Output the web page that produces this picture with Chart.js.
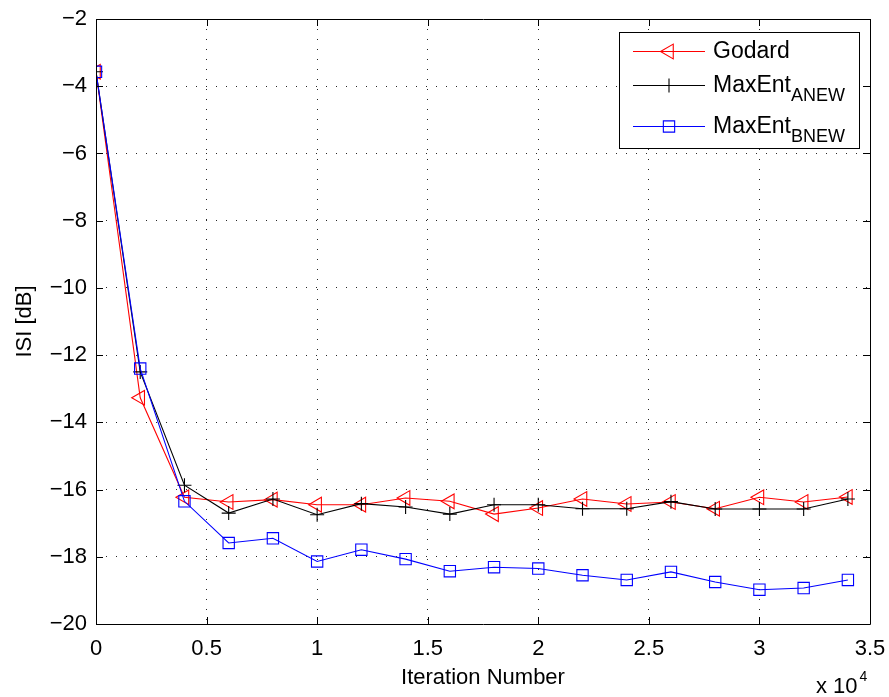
<!DOCTYPE html>
<html>
<head>
<meta charset="utf-8">
<script src="https://cdn.jsdelivr.net/npm/chart.js@4/dist/chart.umd.min.js"></script>
<style>
  html, body { margin: 0; padding: 0; background: #fff; }
  #wrap { width: 889px; height: 697px; position: relative; }
</style>
</head>
<body>
<div id="wrap"><canvas id="c" width="889" height="697"></canvas></div>
<script>
// ---- data ----
const iterations = [0, 2000, 4000, 6000, 8000, 10000, 12000, 14000, 16000, 18000, 20000, 22000, 24000, 26000, 28000, 30000, 32000, 34000];
const godard  = [-3.57, -13.27, -16.23, -16.37, -16.30, -16.45, -16.45, -16.25, -16.35, -16.73, -16.55, -16.28, -16.43, -16.37, -16.57, -16.23, -16.37, -16.22];
const maxEntA = [-3.57, -12.50, -15.87, -16.70, -16.28, -16.75, -16.42, -16.52, -16.73, -16.45, -16.45, -16.57, -16.57, -16.36, -16.58, -16.58, -16.58, -16.28];
const maxEntB = [-3.57, -12.40, -16.35, -17.59, -17.45, -18.14, -17.79, -18.07, -18.43, -18.31, -18.35, -18.55, -18.69, -18.45, -18.75, -18.98, -18.93, -18.69];
const seriesNames = ['Godard', 'MaxEnt', 'MaxEnt'];
const seriesSubs  = ['', 'ANEW', 'BNEW'];
const xTickValues = [0, 5000, 10000, 15000, 20000, 25000, 30000, 35000];
const yTickValues = [-20, -18, -16, -14, -12, -10, -8, -6, -4, -2];
const xTitle = 'Iteration Number';
const yTitle = 'ISI [dB]';

const FONT = '"Liberation Sans", Arial, Helvetica, sans-serif';
const toPts = ys => iterations.map((x, i) => ({ x: x, y: ys[i] }));

const datasets = [
  { label: 'Godard', data: toPts(godard), borderColor: '#ff0000', backgroundColor: 'rgba(0,0,0,0)',
    pointStyle: 'triangle', pointRotation: -90, pointRadius: 8.5, order: 3 },
  { label: 'MaxEnt ANEW', data: toPts(maxEntA), borderColor: '#000000', backgroundColor: 'rgba(0,0,0,0)',
    pointStyle: 'cross', pointRotation: 0, pointRadius: 7, order: 2 },
  { label: 'MaxEnt BNEW', data: toPts(maxEntB), borderColor: '#0000ff', backgroundColor: 'rgba(0,0,0,0)',
    pointStyle: 'rect', pointRotation: 0, pointRadius: 8, order: 1 }
];
datasets.forEach(d => {
  d.borderWidth = 1.1;
  d.pointBorderWidth = 1.1;
  d.tension = 0;
  d.fill = false;
  d.pointBackgroundColor = 'rgba(0,0,0,0)';
  d.pointBorderColor = d.borderColor;
  d.pointHoverRadius = d.pointRadius;
});

const framePlugin = {
  id: 'matlabFrame',
  afterDraw(chart) {
    const ctx = chart.ctx;
    const a = chart.chartArea;
    const xs = chart.scales.x, ys = chart.scales.y;
    ctx.save();
    // frame
    ctx.strokeStyle = '#000';
    ctx.lineWidth = 1;
    ctx.beginPath();
    ctx.rect(Math.round(a.left) + 0.5, Math.round(a.top) + 0.5, Math.round(a.right - a.left), Math.round(a.bottom - a.top));
    ctx.stroke();
    // inward ticks
    const tl = 7;
    ctx.beginPath();
    xTickValues.forEach(v => {
      const px = Math.round(xs.getPixelForValue(v)) + 0.5;
      ctx.moveTo(px, a.bottom); ctx.lineTo(px, a.bottom - tl);
      ctx.moveTo(px, a.top); ctx.lineTo(px, a.top + tl);
    });
    yTickValues.forEach(v => {
      const py = Math.round(ys.getPixelForValue(v)) + 0.5;
      ctx.moveTo(a.left, py); ctx.lineTo(a.left + tl, py);
      ctx.moveTo(a.right, py); ctx.lineTo(a.right - tl, py);
    });
    ctx.stroke();

    // axis titles
    ctx.fillStyle = '#000';
    ctx.font = '22px ' + FONT;
    ctx.textAlign = 'center';
    ctx.textBaseline = 'alphabetic';
    ctx.fillText(xTitle, (a.left + a.right) / 2, 684);
    ctx.save();
    ctx.translate(31, (a.top + a.bottom) / 2);
    ctx.rotate(-Math.PI / 2);
    ctx.fillText(yTitle, 0, 0);
    ctx.restore();
    // exponent label
    ctx.textAlign = 'left';
    ctx.font = '22px ' + FONT;
    ctx.fillText('x 10', 816, 693);
    const w = ctx.measureText('x 10').width;
    ctx.font = '14px ' + FONT;
    ctx.fillText('4', 816 + w + 2, 681);

    // legend
    const L = { x: 619, y: 32, w: 240, h: 116 };
    ctx.fillStyle = '#fff';
    ctx.fillRect(L.x, L.y, L.w, L.h);
    ctx.strokeStyle = '#000';
    ctx.lineWidth = 1;
    ctx.strokeRect(L.x + 0.5, L.y + 0.5, L.w, L.h);
    const rows = [51, 85, 126];
    chart.data.datasets.forEach((d, i) => {
      const y = rows[i];
      ctx.strokeStyle = d.borderColor;
      ctx.lineWidth = 1.1;
      ctx.beginPath();
      ctx.moveTo(633, y + 0.5); ctx.lineTo(705, y + 0.5);
      ctx.stroke();
      ctx.fillStyle = 'rgba(0,0,0,0)';
      Chart.helpers.drawPoint(ctx, { pointStyle: d.pointStyle, rotation: d.pointRotation, radius: d.pointRadius, borderWidth: 1.1 }, 669, y + 0.5);
      ctx.fillStyle = '#000';
      ctx.font = '23px ' + FONT;
      ctx.textAlign = 'left';
      ctx.textBaseline = 'alphabetic';
      ctx.fillText(seriesNames[i], 713, y + 7);
      if (seriesSubs[i]) {
        const mw = ctx.measureText(seriesNames[i]).width;
        ctx.font = '18px ' + FONT;
        ctx.fillText(seriesSubs[i], 713 + mw, y + 16);
      }
    });
    ctx.restore();
  }
};

new Chart(document.getElementById('c'), {
  type: 'line',
  data: { datasets: datasets },
  options: {
    responsive: false,
    animation: false,
    events: [],
    layout: { padding: { top: 19, right: 19, left: 0, bottom: 0 } },
    plugins: { legend: { display: false }, tooltip: { enabled: false }, title: { display: false } },
    scales: {
      x: {
        type: 'linear', min: 0, max: 35000,
        afterBuildTicks: s => { s.ticks = xTickValues.map(v => ({ value: v })); },
        afterFit: s => { s.height = 73; s.paddingLeft = 0; s.paddingRight = 0; },
        ticks: { color: '#000', font: { family: FONT, size: 22 }, padding: 12, maxRotation: 0,
                 callback: v => String(v / 10000) },
        grid: { color: 'rgba(0,0,0,0.85)', lineWidth: 1, drawTicks: false },
        border: { display: false, dash: [1, 9] }
      },
      y: {
        type: 'linear', min: -20, max: -2,
        afterBuildTicks: s => { s.ticks = yTickValues.map(v => ({ value: v })); },
        afterFit: s => { s.width = 96; s.paddingTop = 0; s.paddingBottom = 0; },
        ticks: { color: '#000', font: { family: FONT, size: 22 }, padding: 9,
                 callback: v => (v < 0 ? '\u2212' + Math.abs(v) : String(v)) },
        grid: { color: 'rgba(0,0,0,0.85)', lineWidth: 1, drawTicks: false },
        border: { display: false, dash: [1, 9] }
      }
    }
  },
  plugins: [framePlugin]
});
</script>
</body>
</html>
